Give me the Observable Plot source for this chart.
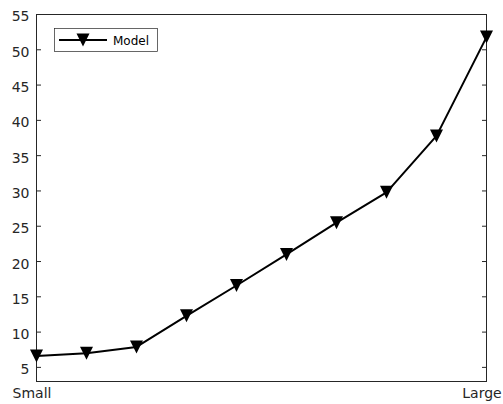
<!DOCTYPE html>
<html>
<head>
<meta charset="utf-8">
<script src="https://cdn.jsdelivr.net/npm/d3@7"></script>
<script src="https://cdn.jsdelivr.net/npm/@observablehq/plot@0.6"></script>
<style>
  html, body { margin: 0; padding: 0; background: #fff; }
  #chart svg { display: block; }
</style>
</head>
<body>
<div id="chart"></div>
<script>
// Model output across ten sizes, from the smallest to the largest
const sizeIndex = [0, 1, 2, 3, 4, 5, 6, 7, 8, 9];
const modelValues = [6.6, 7.0, 7.9, 12.3, 16.6, 21.0, 25.5, 29.8, 37.8, 51.8];

// Axis ticks
const xTickIndex = [0, 9];
const xTickLabels = ["Small", "Large"];
const yTicks = [5, 10, 15, 20, 25, 30, 35, 40, 45, 50, 55];
const seriesName = "Model";

const rows = sizeIndex.map((i, k) => ({i, value: modelValues[k]}));

const axisColor = "#262626";
const font = "'DejaVu Sans', sans-serif";

// Downward-pointing triangle marker, as wide as it is tall
const triangleDown = {
  draw(context, size) {
    const s = Math.sqrt(size / Math.PI);
    context.moveTo(-s, -s);
    context.lineTo(s, -s);
    context.lineTo(0, s);
    context.closePath();
  }
};

const noText = () => "";

const chart = Plot.plot({
  width: 503,
  height: 404,
  marginTop: 14,
  marginBottom: 23,
  marginLeft: 36,
  marginRight: 17,
  style: {fontFamily: font, fontSize: "14px", color: axisColor, background: "#fff"},
  x: {type: "linear", domain: [0, 9]},
  y: {domain: [3, 55]},
  marks: [
    Plot.frame({stroke: axisColor, strokeWidth: 1}),
    // left labels
    Plot.axisY({ticks: yTicks, tickSize: 0, tickPadding: 7, dy: 2.5, label: null, fill: axisColor}),
    // inward ticks, left and right
    Plot.axisY({ticks: yTicks, tickSize: 5, dx: 5, label: null, tickFormat: noText, stroke: axisColor}),
    Plot.axisY({anchor: "right", ticks: yTicks, tickSize: 5, dx: -5, label: null, tickFormat: noText, stroke: axisColor}),
    // end labels along x
    Plot.axisX({
      ticks: xTickIndex,
      tickSize: 0,
      tickPadding: 7,
      dx: -4.5,
      label: null,
      fill: axisColor,
      tickFormat: d => xTickLabels[xTickIndex.indexOf(d)]
    }),
    Plot.line(rows, {x: "i", y: "value", stroke: "#000", strokeWidth: 2}),
    Plot.dot(rows, {x: "i", y: "value", symbol: triangleDown, r: 6.5, fill: "#000", stroke: "none"})
  ]
});

document.getElementById("chart").appendChild(chart);

// Legend box in the upper-left corner of the axes
const svg = d3.select(chart);
const legend = svg.append("g")
  .attr("font-family", font)
  .attr("text-anchor", "start");
legend.append("rect")
  .attr("x", 54.5).attr("y", 28.5).attr("width", 103).attr("height", 23)
  .attr("fill", "#fff").attr("stroke", axisColor).attr("stroke-width", 0.7);
legend.append("line")
  .attr("x1", 59).attr("x2", 107).attr("y1", 40).attr("y2", 40)
  .attr("stroke", "#000").attr("stroke-width", 2);
const markerPath = d3.path();
triangleDown.draw(markerPath, Math.PI * 6.5 * 6.5);
legend.append("path")
  .attr("d", markerPath.toString())
  .attr("transform", "translate(83,40)")
  .attr("fill", "#000");
legend.append("text")
  .attr("x", 113).attr("y", 44.5)
  .attr("font-size", 12).attr("fill", "#000")
  .attr("text-anchor", "start")
  .text(seriesName);
</script>
</body>
</html>
